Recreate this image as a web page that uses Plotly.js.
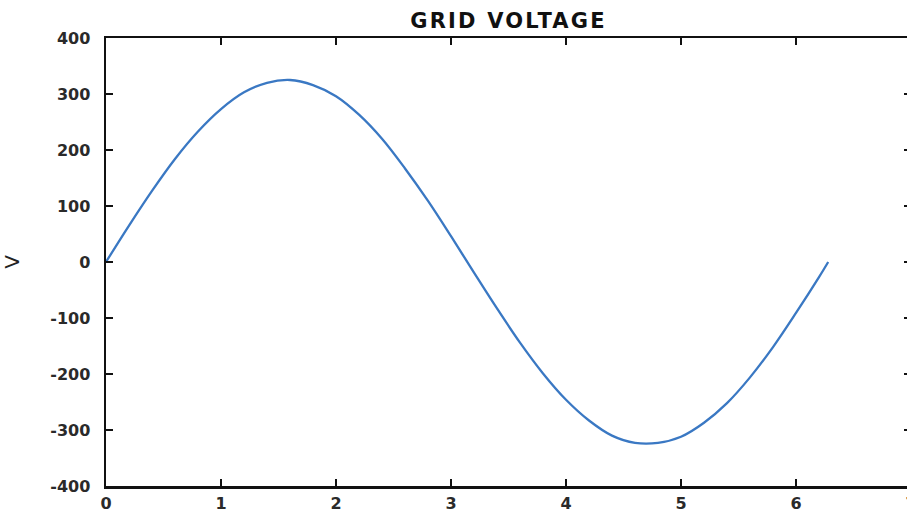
<!DOCTYPE html>
<html>
<head>
<meta charset="utf-8">
<script src="https://cdn.plot.ly/plotly-3.0.1.min.js"></script>
<style>
html,body{margin:0;padding:0;overflow:hidden;background:#fff;}
#chart{width:920px;height:515px;}
.gtitle{letter-spacing:2.2px;}
</style>
</head>
<body>
<div id="chart"></div>
<script>
// time (rad) and grid voltage (V)
const timeX = [0, 0.2, 0.4, 0.6, 0.8, 1.0, 1.2, 1.4, 1.6, 1.8, 2.0, 2.2, 2.4, 2.6, 2.8, 3.0, 3.2, 3.4, 3.6, 3.8, 4.0, 4.2, 4.4, 4.6, 4.8, 5.0, 5.2, 5.4, 5.6, 5.8, 6.0, 6.2, 6.28];
const voltageY = [0, 65, 127, 184, 233, 273, 303, 320, 325, 316, 296, 263, 220, 167, 109, 46, -19, -83, -144, -199, -246, -283, -310, -323, -323, -312, -287, -252, -206, -152, -91, -27, 0];
const xTicks = [0, 1, 2, 3, 4, 5, 6, 7];
const yTicks = [-400, -300, -200, -100, 0, 100, 200, 300, 400];

const tickFont = {family: 'DejaVu Sans', size: 16, color: '#2a2a2a', weight: 'bold'};

const trace = {
  x: timeX, y: voltageY, type: 'scatter', mode: 'lines',
  line: {color: '#3a78c3', width: 2.3, shape: 'spline', smoothing: 1},
  hoverinfo: 'none'
};

const layout = {
  width: 920, height: 515,
  margin: {l: 106, r: 9, t: 38, b: 29},
  paper_bgcolor: '#fff', plot_bgcolor: '#fff',
  showlegend: false,
  title: {
    text: 'GRID VOLTAGE',
    font: {family: 'DejaVu Sans', size: 21, color: '#111', weight: 'bold'},
    x: 0.5, xref: 'paper', xanchor: 'center',
    y: 0.959, yref: 'container', yanchor: 'middle'
  },
  xaxis: {
    range: [0, 7], tickvals: xTicks, ticktext: xTicks.map(String),
    showgrid: false, zeroline: false,
    showline: true, linecolor: '#111', linewidth: 2.5, mirror: 'ticks',
    ticks: 'inside', ticklen: 7, tickwidth: 2.5, tickcolor: '#111',
    tickfont: tickFont, ticklabelstandoff: 1
  },
  yaxis: {
    range: [-400, 400], tickvals: yTicks, ticktext: yTicks.map(String),
    showgrid: false, zeroline: false,
    showline: true, linecolor: '#111', linewidth: 2.5, mirror: 'ticks',
    ticks: 'inside', ticklen: 7, tickwidth: 2.5, tickcolor: '#111',
    tickfont: tickFont, ticklabelstandoff: 10,
    title: {text: 'V', font: {family: 'DejaVu Sans', size: 20, color: '#222'}, standoff: 30}
  }
};

Plotly.newPlot('chart', [trace], layout, {displayModeBar: false, staticPlot: true});
</script>
</body>
</html>
